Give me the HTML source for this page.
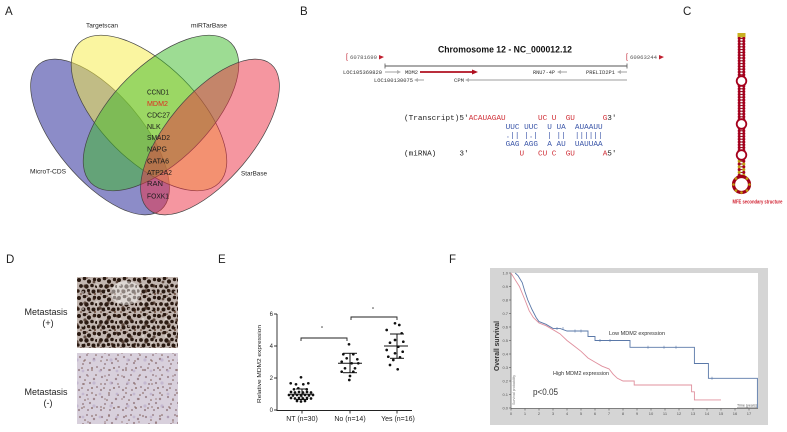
<!DOCTYPE html>
<html><head><meta charset="utf-8"><style>
html,body{margin:0;padding:0;background:#fff;}
body{width:787px;height:432px;overflow:hidden;}
svg{display:block;}
text{font-family:"Liberation Sans",Arial,sans-serif;}
.mono{font-family:"Liberation Mono","DejaVu Sans Mono",monospace;}
</style></head><body>
<svg width="787" height="432" viewBox="0 0 787 432" xmlns="http://www.w3.org/2000/svg">
<defs>
<pattern id="tisA" width="20" height="18" patternUnits="userSpaceOnUse" x="77" y="277">
<rect width="20" height="18" fill="#c2b6b0"/>
<g fill="#2a1a12">
<circle cx="2" cy="3" r="2"/><circle cx="7.5" cy="1.5" r="1.8"/><circle cx="12" cy="4.5" r="2.1"/><circle cx="17.5" cy="2.5" r="1.7"/>
<circle cx="4" cy="9" r="1.9"/><circle cx="9.5" cy="9.5" r="2.2"/><circle cx="15" cy="8.5" r="1.8"/><circle cx="1" cy="14" r="1.7"/>
<circle cx="6.5" cy="14.5" r="2"/><circle cx="11.5" cy="13.5" r="1.6"/><circle cx="16.5" cy="14.5" r="2"/><circle cx="19.5" cy="9.5" r="1.5"/><circle cx="13" cy="17.8" r="1.4"/>
</g>
<g fill="#6b4a3a"><circle cx="18" cy="17" r="1"/><circle cx="4" cy="17" r="0.9"/><circle cx="10" cy="1" r="0.8"/></g>
</pattern>
<pattern id="tisA2" width="23" height="17" patternUnits="userSpaceOnUse" x="80" y="280">
<g fill="#3a2418" fill-opacity="0.7">
<circle cx="5" cy="6" r="1.6"/><circle cx="14" cy="2" r="1.4"/><circle cx="20" cy="11" r="1.7"/><circle cx="9" cy="13" r="1.3"/>
</g>
<g fill="#e0d8d4" fill-opacity="0.6"><circle cx="17" cy="5" r="1.3"/><circle cx="3" cy="12" r="1.1"/></g>
</pattern>
<pattern id="tisB" width="22" height="20" patternUnits="userSpaceOnUse" x="77" y="353">
<rect width="22" height="20" fill="#d8d0dc"/>
<g fill="#a08890">
<circle cx="3" cy="4" r="1.1"/><circle cx="10" cy="2" r="1"/><circle cx="17" cy="6" r="1.2"/><circle cx="6" cy="11" r="1"/>
<circle cx="13" cy="10" r="1.1"/><circle cx="20" cy="14" r="1"/><circle cx="2" cy="17" r="1.1"/><circle cx="11" cy="17" r="1"/>
</g>
<g fill="#7d5c55"><circle cx="15" cy="15" r="0.9"/><circle cx="8" cy="7" r="0.8"/><circle cx="19" cy="2" r="0.8"/><circle cx="5" cy="15" r="0.8"/></g>
</pattern>
<pattern id="tisB2" width="17" height="23" patternUnits="userSpaceOnUse" x="80" y="356">
<g fill="#8a6a66" fill-opacity="0.6"><circle cx="4" cy="5" r="1"/><circle cx="12" cy="14" r="1.1"/><circle cx="8" cy="20" r="0.9"/></g>
<g fill="#b8a8c8" fill-opacity="0.6"><circle cx="14" cy="4" r="1.6"/><circle cx="3" cy="15" r="1.4"/></g>
</pattern>
<pattern id="stem" width="8" height="2.8" patternUnits="userSpaceOnUse" x="737.5" y="37">
<rect x="1.7" y="0.9" width="4.6" height="1" fill="#7a0010"/>
<circle cx="1.7" cy="1.4" r="1.55" fill="#a5001c"/>
<circle cx="6.3" cy="1.4" r="1.55" fill="#a5001c"/>
</pattern>
<pattern id="stemY" width="8" height="5.6" patternUnits="userSpaceOnUse" x="737.5" y="157">
<rect x="1.7" y="0.9" width="4.6" height="1" fill="#7a2010"/>
<rect x="1.7" y="3.7" width="4.6" height="1" fill="#7a2010"/>
<circle cx="1.7" cy="1.4" r="1.55" fill="#a5001c"/>
<circle cx="6.3" cy="1.4" r="1.55" fill="#c0a010"/>
<circle cx="1.7" cy="4.2" r="1.55" fill="#c0a010"/>
<circle cx="6.3" cy="4.2" r="1.55" fill="#a5001c"/>
</pattern>
</defs>

<!-- Panel labels -->
<text x="5" y="15" font-size="11.5" fill="#222">A</text>
<text x="300" y="15" font-size="11.5" fill="#222">B</text>
<text x="683" y="15" font-size="11.5" fill="#222">C</text>
<text x="6" y="263" font-size="11.5" fill="#222">D</text>
<text x="218" y="263" font-size="11.5" fill="#222">E</text>
<text x="449" y="263" font-size="11.5" fill="#222">F</text>

<!-- ===== Panel A Venn ===== -->
<g stroke="#444" stroke-width="0.7">
<ellipse cx="100" cy="137" rx="95" ry="43" transform="rotate(50 100 137)" fill="rgb(25,25,145)" fill-opacity="0.5"/>
<ellipse cx="149" cy="113" rx="99" ry="48" transform="rotate(45 149 113)" fill="rgb(245,235,65)" fill-opacity="0.5"/>
<ellipse cx="161" cy="113" rx="99" ry="48" transform="rotate(-45 161 113)" fill="rgb(60,185,40)" fill-opacity="0.5"/>
<ellipse cx="210" cy="137" rx="95" ry="43" transform="rotate(-50 210 137)" fill="rgb(235,45,65)" fill-opacity="0.5"/>
</g>
<g font-size="6.5" fill="#222">
<text x="86" y="27.5" textLength="32" lengthAdjust="spacingAndGlyphs">Targetscan</text>
<text x="191" y="27.5" textLength="36" lengthAdjust="spacingAndGlyphs">miRTarBase</text>
<text x="30" y="173.5" textLength="36" lengthAdjust="spacingAndGlyphs">MicroT-CDS</text>
<text x="241" y="175.5" textLength="26" lengthAdjust="spacingAndGlyphs">StarBase</text>
</g>
<g font-size="7" fill="#1a1a1a">
<text x="147" y="94.5" textLength="22" lengthAdjust="spacingAndGlyphs">CCND1</text>
<text x="147" y="106" textLength="21" lengthAdjust="spacingAndGlyphs" fill="#e02a20">MDM2</text>
<text x="147" y="117.7" textLength="23" lengthAdjust="spacingAndGlyphs">CDC27</text>
<text x="147" y="129">NLK</text>
<text x="147" y="140" textLength="23" lengthAdjust="spacingAndGlyphs">SMAD2</text>
<text x="147" y="151.7" textLength="20" lengthAdjust="spacingAndGlyphs">NAPG</text>
<text x="147" y="163.3" textLength="22" lengthAdjust="spacingAndGlyphs">GATA6</text>
<text x="147" y="175" textLength="25" lengthAdjust="spacingAndGlyphs">ATP2A2</text>
<text x="147" y="186" textLength="16" lengthAdjust="spacingAndGlyphs">RAN</text>
<text x="147" y="198.4" textLength="22" lengthAdjust="spacingAndGlyphs">FOXK1</text>
</g>

<!-- ===== Panel B ===== -->
<text x="505" y="52.5" font-size="9.5" font-weight="bold" text-anchor="middle" textLength="134" lengthAdjust="spacingAndGlyphs" fill="#111">Chromosome 12 - NC_000012.12</text>
<g>
<text x="346" y="59" font-size="7" fill="#c02030">[</text>
<text class="mono" x="350" y="59" font-size="5" fill="#555" textLength="27" lengthAdjust="spacingAndGlyphs">60781690</text>
<polygon points="379,55 384,57 379,59.5" fill="#c02030"/>
<text x="626" y="59" font-size="7" fill="#c02030">[</text>
<text class="mono" x="630" y="59" font-size="5" fill="#555" textLength="27" lengthAdjust="spacingAndGlyphs">60963244</text>
<polygon points="659,55 664,57 659,59.5" fill="#c02030"/>
</g>
<line x1="385" y1="66" x2="627" y2="66" stroke="#555" stroke-width="1"/>
<line x1="385" y1="63.5" x2="385" y2="68.5" stroke="#555" stroke-width="0.8"/>
<line x1="627" y1="63.5" x2="627" y2="68.5" stroke="#555" stroke-width="0.8"/>
<g class="mono" font-size="5.2" fill="#333">
<text class="mono" x="343" y="74" textLength="39" lengthAdjust="spacingAndGlyphs">LOC105369820</text>
<text class="mono" x="405" y="74" textLength="13" lengthAdjust="spacingAndGlyphs">MDM2</text>
<text class="mono" x="533" y="74" textLength="22" lengthAdjust="spacingAndGlyphs">RNU7-4P</text>
<text class="mono" x="586" y="74" textLength="29" lengthAdjust="spacingAndGlyphs">PRELID2P1</text>
<text class="mono" x="374" y="82" textLength="39" lengthAdjust="spacingAndGlyphs">LOC100130075</text>
<text class="mono" x="454" y="82" textLength="10" lengthAdjust="spacingAndGlyphs">CPM</text>
</g>
<g stroke="#b0b0b0" stroke-width="1.2" fill="#b0b0b0">
<line x1="385" y1="72" x2="398" y2="72"/><polygon points="397,70 401,72 397,74" stroke="none"/>
<line x1="560" y1="72" x2="567" y2="72"/><polygon points="561,70 557,72 561,74" stroke="none"/>
<line x1="620" y1="72" x2="627" y2="72"/><polygon points="621,70 617,72 621,74" stroke="none"/>
<line x1="417" y1="80" x2="424" y2="80"/><polygon points="418,78 414,80 418,82" stroke="none"/>
<line x1="468" y1="80" x2="627" y2="80"/><polygon points="469,78 465,80 469,82" stroke="none"/>
</g>
<line x1="420" y1="72" x2="473" y2="72" stroke="#b01020" stroke-width="1.8"/>
<polygon points="472,69.5 478,72 472,74.5" fill="#b01020"/>

<!-- alignment -->
<g class="mono" font-size="7.7">
<text class="mono" y="120"><tspan x="404" fill="#222">(Transcript)5'</tspan><tspan x="468.7" fill="#d03038">ACAUAGAU</tspan><tspan x="538" fill="#d03038">UC</tspan><tspan x="551.8" fill="#d03038">U</tspan><tspan x="565.7" fill="#d03038">GU</tspan><tspan x="602.7" fill="#d03038">G</tspan><tspan x="607.3" fill="#222">3'</tspan></text>
<g fill="#3a55a8">
<text class="mono" x="505.6" y="129">UUC</text><text class="mono" x="524.1" y="129">UUC</text><text class="mono" x="547.2" y="129">U</text><text class="mono" x="556.5" y="129">UA</text><text class="mono" x="574.9" y="129">AUAAUU</text>
<text class="mono" x="505.6" y="137.5">.||</text><text class="mono" x="524.1" y="137.5">|.|</text><text class="mono" x="547.2" y="137.5">|</text><text class="mono" x="556.5" y="137.5">||</text><text class="mono" x="574.9" y="137.5">||||||</text>
<text class="mono" x="505.6" y="146">GAG</text><text class="mono" x="524.1" y="146">AGG</text><text class="mono" x="547.2" y="146">A</text><text class="mono" x="556.5" y="146">AU</text><text class="mono" x="574.9" y="146">UAUUAA</text>
</g>
<text class="mono" y="155.5"><tspan x="404" fill="#222">(miRNA)</tspan><tspan x="459.4" fill="#222">3'</tspan><tspan x="519.5" fill="#d03038">U</tspan><tspan x="538" fill="#d03038">CU</tspan><tspan x="551.8" fill="#d03038">C</tspan><tspan x="565.7" fill="#d03038">GU</tspan><tspan x="602.7" fill="#d03038">A</tspan><tspan x="607.3" fill="#222">5'</tspan></text>
</g>

<!-- ===== Panel C hairpin ===== -->
<rect x="737.5" y="33" width="8" height="4.5" fill="#c8b020"/>
<rect x="737.5" y="37" width="8" height="120" fill="url(#stem)"/>
<rect x="737.5" y="157" width="8" height="19" fill="url(#stemY)"/>
<g fill="#fff" stroke="#a5001c" stroke-width="1.8">
<circle cx="741.5" cy="81" r="4.8"/>
<circle cx="741.5" cy="124" r="4.8"/>
<circle cx="741.5" cy="155" r="4.8"/>
</g>
<circle cx="741.5" cy="184.5" r="8" fill="#fff" stroke="#a00018" stroke-width="3.2"/>
<g fill="#c0a010">
<circle cx="733.5" cy="184.5" r="1.3"/><circle cx="736" cy="190.5" r="1.3"/><circle cx="741.5" cy="192.5" r="1.3"/><circle cx="747" cy="190.5" r="1.3"/><circle cx="749.5" cy="184.5" r="1.3"/><circle cx="747" cy="178.5" r="1.3"/><circle cx="736" cy="178.5" r="1.3"/>
</g>
<text x="757.5" y="203.5" font-size="5" font-weight="bold" fill="#d02030" text-anchor="middle" textLength="50" lengthAdjust="spacingAndGlyphs">MFE secondary structure</text>

<!-- ===== Panel D ===== -->
<rect x="77" y="277" width="101" height="71" fill="url(#tisA)"/>
<rect x="77" y="277" width="101" height="71" fill="url(#tisA2)"/>
<ellipse cx="126" cy="293" rx="15" ry="12" fill="#fff" fill-opacity="0.45"/>
<rect x="77" y="353" width="101" height="71" fill="url(#tisB)"/>
<rect x="77" y="353" width="101" height="71" fill="url(#tisB2)"/>
<g font-size="9" fill="#222" text-anchor="middle">
<text x="46" y="315">Metastasis</text>
<text x="48" y="326">(+)</text>
<text x="46" y="395">Metastasis</text>
<text x="48" y="406">(-)</text>
</g>

<!-- ===== Panel E ===== -->
<g stroke="#222" stroke-width="0.9" fill="none">
<line x1="277" y1="314" x2="277" y2="410.5"/>
<line x1="276.5" y1="410.5" x2="412" y2="410.5"/>
<line x1="274" y1="314" x2="277" y2="314"/><line x1="274" y1="346" x2="277" y2="346"/><line x1="274" y1="378" x2="277" y2="378"/><line x1="274" y1="410" x2="277" y2="410"/>
<line x1="302" y1="410.5" x2="302" y2="413.5"/><line x1="350" y1="410.5" x2="350" y2="413.5"/><line x1="397" y1="410.5" x2="397" y2="413.5"/>
<polyline points="301,341 301,338 347,338 347,341"/>
<polyline points="351,320 351,317 397,317 397,320"/>
</g>
<g font-size="6" fill="#222" text-anchor="end">
<text x="273" y="316">6</text><text x="273" y="348">4</text><text x="273" y="380">2</text><text x="273" y="412">0</text>
</g>
<text transform="translate(261,364) rotate(-90)" font-size="5.6" fill="#222" text-anchor="middle" textLength="78" lengthAdjust="spacingAndGlyphs">Relative MDM2 expression</text>
<g font-size="7" fill="#222" text-anchor="middle">
<text x="302" y="421">NT (n=30)</text><text x="350" y="421">No (n=14)</text><text x="398" y="421">Yes (n=16)</text>
</g>
<circle cx="322" cy="327" r="0.8" fill="#444"/>
<circle cx="373" cy="308" r="0.8" fill="#444"/>
<g fill="#111">
<circle cx="301" cy="377.3" r="1.35"/><circle cx="290.7" cy="383.3" r="1.35"/><circle cx="296" cy="384.3" r="1.35"/><circle cx="303.3" cy="384.3" r="1.35"/><circle cx="308.3" cy="383.3" r="1.35"/>
<circle cx="298.3" cy="388.3" r="1.35"/><circle cx="294" cy="389.3" r="1.35"/><circle cx="306.7" cy="389.3" r="1.35"/>
<circle cx="291" cy="392" r="1.35"/><circle cx="295" cy="392.5" r="1.35"/><circle cx="299" cy="392" r="1.35"/><circle cx="303" cy="392.5" r="1.35"/><circle cx="307" cy="392" r="1.35"/><circle cx="311" cy="392.5" r="1.35"/>
<circle cx="289" cy="395" r="1.35"/><circle cx="293" cy="395.5" r="1.35"/><circle cx="297" cy="395" r="1.35"/><circle cx="301" cy="395.5" r="1.35"/><circle cx="305" cy="395" r="1.35"/><circle cx="309" cy="395.5" r="1.35"/><circle cx="313" cy="395" r="1.35"/>
<circle cx="291" cy="398" r="1.35"/><circle cx="295" cy="398.5" r="1.35"/><circle cx="299" cy="398" r="1.35"/><circle cx="303" cy="398.5" r="1.35"/><circle cx="307" cy="398" r="1.35"/><circle cx="311" cy="398.5" r="1.35"/>
<circle cx="297" cy="401" r="1.35"/><circle cx="301" cy="401.5" r="1.35"/><circle cx="305" cy="401" r="1.35"/>
<circle cx="349" cy="344.3" r="1.35"/><circle cx="343.3" cy="354.3" r="1.35"/><circle cx="353.3" cy="354.3" r="1.35"/><circle cx="346.7" cy="358.3" r="1.35"/><circle cx="357.3" cy="359.3" r="1.35"/>
<circle cx="341.7" cy="361.7" r="1.35"/><circle cx="351.7" cy="363.3" r="1.35"/><circle cx="358.3" cy="363.3" r="1.35"/><circle cx="345" cy="368.3" r="1.35"/><circle cx="355" cy="368.3" r="1.35"/>
<circle cx="341.7" cy="371.7" r="1.35"/><circle cx="353.3" cy="371.7" r="1.35"/><circle cx="350" cy="376" r="1.35"/><circle cx="349.3" cy="380" r="1.35"/>
<circle cx="395" cy="323.3" r="1.35"/><circle cx="399.3" cy="325" r="1.35"/><circle cx="386.7" cy="330" r="1.35"/><circle cx="401.7" cy="333.3" r="1.35"/>
<circle cx="395" cy="340" r="1.35"/><circle cx="403.3" cy="341.7" r="1.35"/><circle cx="390" cy="342.7" r="1.35"/><circle cx="398.3" cy="346.7" r="1.35"/>
<circle cx="386.7" cy="350" r="1.35"/><circle cx="402.7" cy="351.7" r="1.35"/><circle cx="395" cy="353.3" r="1.35"/><circle cx="388.3" cy="356.7" r="1.35"/>
<circle cx="400" cy="357.3" r="1.35"/><circle cx="393.3" cy="360" r="1.35"/><circle cx="390" cy="365" r="1.35"/><circle cx="397.7" cy="369.3" r="1.35"/>
</g>
<g stroke="#111" stroke-width="1">
<line x1="290" y1="394.3" x2="314" y2="394.3"/><line x1="302" y1="389" x2="302" y2="399.5"/><line x1="296" y1="389" x2="308" y2="389"/><line x1="296" y1="399.5" x2="308" y2="399.5"/>
<line x1="338" y1="363.3" x2="362" y2="363.3"/><line x1="350" y1="353.3" x2="350" y2="372.7"/><line x1="343" y1="353.3" x2="357" y2="353.3"/><line x1="343" y1="372.7" x2="357" y2="372.7"/>
<line x1="384" y1="346" x2="408" y2="346"/><line x1="397" y1="334" x2="397" y2="358.3"/><line x1="390" y1="334" x2="404" y2="334"/><line x1="390" y1="358.3" x2="404" y2="358.3"/>
</g>

<!-- ===== Panel F ===== -->
<rect x="490" y="268" width="278" height="157" fill="#d5d5d5"/>
<rect x="511" y="273" width="247" height="136" fill="#fff"/>
<g stroke="#555" stroke-width="0.7">
<line x1="511" y1="273" x2="511" y2="408.5"/>
<line x1="511" y1="408.5" x2="758" y2="408.5"/>
</g>
<g stroke="#555" stroke-width="0.6">
<line x1="509" y1="273" x2="511" y2="273"/><line x1="509" y1="286.5" x2="511" y2="286.5"/><line x1="509" y1="300" x2="511" y2="300"/><line x1="509" y1="313.5" x2="511" y2="313.5"/><line x1="509" y1="327" x2="511" y2="327"/><line x1="509" y1="340.5" x2="511" y2="340.5"/><line x1="509" y1="354" x2="511" y2="354"/><line x1="509" y1="367.5" x2="511" y2="367.5"/><line x1="509" y1="381" x2="511" y2="381"/><line x1="509" y1="394.5" x2="511" y2="394.5"/><line x1="509" y1="408" x2="511" y2="408"/>
</g>
<g font-size="4" fill="#555" text-anchor="end">
<text x="508" y="274.5">1.0</text><text x="508" y="288">0.9</text><text x="508" y="301.5">0.8</text><text x="508" y="315">0.7</text><text x="508" y="328.5">0.6</text><text x="508" y="342">0.5</text><text x="508" y="355.5">0.4</text><text x="508" y="369">0.3</text><text x="508" y="382.5">0.2</text><text x="508" y="396">0.1</text><text x="508" y="409.5">0.0</text>
</g>
<g stroke="#555" stroke-width="0.6">
<line x1="511" y1="408.5" x2="511" y2="410.5"/><line x1="525" y1="408.5" x2="525" y2="410.5"/><line x1="539" y1="408.5" x2="539" y2="410.5"/><line x1="553" y1="408.5" x2="553" y2="410.5"/><line x1="567" y1="408.5" x2="567" y2="410.5"/><line x1="581" y1="408.5" x2="581" y2="410.5"/><line x1="595" y1="408.5" x2="595" y2="410.5"/><line x1="609" y1="408.5" x2="609" y2="410.5"/><line x1="623" y1="408.5" x2="623" y2="410.5"/><line x1="637" y1="408.5" x2="637" y2="410.5"/><line x1="651" y1="408.5" x2="651" y2="410.5"/><line x1="665" y1="408.5" x2="665" y2="410.5"/><line x1="679" y1="408.5" x2="679" y2="410.5"/><line x1="693" y1="408.5" x2="693" y2="410.5"/><line x1="707" y1="408.5" x2="707" y2="410.5"/><line x1="721" y1="408.5" x2="721" y2="410.5"/><line x1="735" y1="408.5" x2="735" y2="410.5"/><line x1="749" y1="408.5" x2="749" y2="410.5"/>
</g>
<g font-size="4" fill="#555" text-anchor="middle">
<text x="511" y="415">0</text><text x="525" y="415">1</text><text x="539" y="415">2</text><text x="553" y="415">3</text><text x="567" y="415">4</text><text x="581" y="415">5</text><text x="595" y="415">6</text><text x="609" y="415">7</text><text x="623" y="415">8</text><text x="637" y="415">9</text><text x="651" y="415">10</text><text x="665" y="415">11</text><text x="679" y="415">12</text><text x="693" y="415">13</text><text x="707" y="415">14</text><text x="721" y="415">15</text><text x="735" y="415">16</text><text x="749" y="415">17</text>
</g>
<text x="737" y="406.5" font-size="4" fill="#555" textLength="20" lengthAdjust="spacingAndGlyphs" text-decoration="underline">Time (years)</text>
<text transform="translate(499,346) rotate(-90)" font-size="7.5" font-weight="bold" fill="#333" text-anchor="middle" textLength="50" lengthAdjust="spacingAndGlyphs">Overall survival</text>
<text transform="translate(515,390) rotate(-90)" font-size="3.2" fill="#777" text-anchor="middle" textLength="30" lengthAdjust="spacingAndGlyphs">Survival probability</text>
<polyline fill="none" stroke="#e0909e" stroke-width="0.9" points="511,273 515.2,279.8 519.4,286.5 525,300 529.2,310.8 533.4,317.6 539,323 546,325.7 553,329.7 560,333.8 567,340.5 574,345.9 581,351.3 588,358 595,362.1 602,366.2 609,368.9 613.2,374.3 617.4,378.3 623,381 634.2,381 634.2,385 691.6,385 691.6,391.8 694.4,391.8 694.4,399.9 721,399.9"/>
<polyline fill="none" stroke="#5a78a8" stroke-width="0.9" points="515.2,273 518,275.7 522.2,282.5 525,291.9 527.8,300 532,309.5 536.2,317.6 539,321.6 546,324.3 553,328.4 560,328.4 567,331 588,331 588,336.5 595,336.5 595,340.5 630,340.5 630,347.3 694.4,347.3 694.4,363.5 708.4,363.5 708.4,378.3 757.4,378.3 757.4,408"/>
<g stroke="#5a78a8" stroke-width="0.6">
<line x1="557" y1="327" x2="557" y2="330"/><line x1="563" y1="327" x2="563" y2="330"/><line x1="575" y1="329.5" x2="575" y2="332.5"/><line x1="581" y1="329.5" x2="581" y2="332.5"/><line x1="600" y1="339" x2="600" y2="342"/><line x1="610" y1="339" x2="610" y2="342"/><line x1="648" y1="345.8" x2="648" y2="348.8"/><line x1="664" y1="345.8" x2="664" y2="348.8"/><line x1="676" y1="345.8" x2="676" y2="348.8"/><line x1="712" y1="376.8" x2="712" y2="379.8"/>
</g>
<g font-size="5.5" fill="#333">
<text x="609" y="335" textLength="56" lengthAdjust="spacingAndGlyphs">Low MDM2 expression</text>
<text x="553" y="375" textLength="56" lengthAdjust="spacingAndGlyphs">High MDM2 expression</text>
</g>
<text x="533" y="395" font-size="9" fill="#333" textLength="25" lengthAdjust="spacingAndGlyphs">p&lt;0.05</text>
</svg>
</body></html>
